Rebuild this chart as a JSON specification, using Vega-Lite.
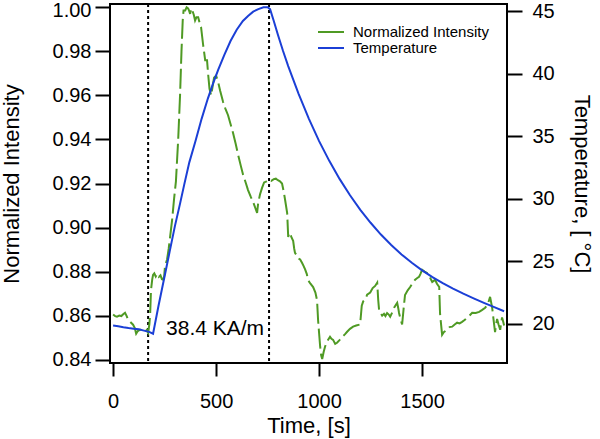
{
  "$schema": "https://vega.github.io/schema/vega-lite/v6.json",
  "width": 397,
  "height": 359,
  "autosize": {"type": "none"},
  "padding": {"left": 110, "top": 4, "right": 93, "bottom": 76},
  "background": "white",
  "config": {
    "font": "Liberation Sans",
    "view": {"stroke": "black", "strokeWidth": 2},
    "axis": {
      "domainColor": "black", "domainWidth": 2,
      "tickColor": "black", "tickWidth": 2,
      "labelColor": "black", "titleColor": "black",
      "labelFont": "Liberation Sans", "titleFont": "Liberation Sans",
      "labelFontSize": 20, "titleFontSize": 22, "titleFontWeight": "normal",
      "grid": false
    },
    "legend": {"labelFont": "Liberation Sans", "labelColor": "black"}
  },
  "datasets": {
    "markers": [{"time": 170}, {"time": 757}],
    "labels": [{"time": 257, "intensity": 0.851, "label": "38.4 KA/m"}],
    "intensity": [
      {"time": 0, "intensity": 0.8605}, {"time": 10, "intensity": 0.8598}, {"time": 19, "intensity": 0.8595},
      {"time": 30, "intensity": 0.86}, {"time": 40, "intensity": 0.8598}, {"time": 49, "intensity": 0.8606},
      {"time": 58, "intensity": 0.8613}, {"time": 66, "intensity": 0.8598}, {"time": 73, "intensity": 0.8581},
      {"time": 85, "intensity": 0.857}, {"time": 97, "intensity": 0.8559}, {"time": 105, "intensity": 0.8545},
      {"time": 112, "intensity": 0.8518}, {"time": 120, "intensity": 0.853}, {"time": 131, "intensity": 0.8536},
      {"time": 143, "intensity": 0.8532}, {"time": 155, "intensity": 0.8527}, {"time": 163, "intensity": 0.8535},
      {"time": 170, "intensity": 0.8522}, {"time": 176, "intensity": 0.856}, {"time": 180, "intensity": 0.861},
      {"time": 184, "intensity": 0.8717}, {"time": 190, "intensity": 0.8765}, {"time": 194, "intensity": 0.8785},
      {"time": 200, "intensity": 0.8792}, {"time": 207, "intensity": 0.8778}, {"time": 214, "intensity": 0.879},
      {"time": 222, "intensity": 0.8776}, {"time": 230, "intensity": 0.8783}, {"time": 237, "intensity": 0.8765},
      {"time": 243, "intensity": 0.8763}, {"time": 248, "intensity": 0.878}, {"time": 252, "intensity": 0.8825},
      {"time": 262, "intensity": 0.8855}, {"time": 270, "intensity": 0.8905}, {"time": 277, "intensity": 0.896},
      {"time": 286, "intensity": 0.903}, {"time": 296, "intensity": 0.913}, {"time": 305, "intensity": 0.921},
      {"time": 316, "intensity": 0.94}, {"time": 325, "intensity": 0.96}, {"time": 332, "intensity": 0.98},
      {"time": 338, "intensity": 0.994}, {"time": 342, "intensity": 0.9986}, {"time": 350, "intensity": 0.9986},
      {"time": 357, "intensity": 1.0}, {"time": 364, "intensity": 0.9995}, {"time": 369, "intensity": 0.9985},
      {"time": 374, "intensity": 0.997}, {"time": 379, "intensity": 0.9995}, {"time": 385, "intensity": 0.9985},
      {"time": 392, "intensity": 0.9965}, {"time": 398, "intensity": 0.994}, {"time": 405, "intensity": 0.9955},
      {"time": 413, "intensity": 0.9955}, {"time": 420, "intensity": 0.993}, {"time": 427, "intensity": 0.991},
      {"time": 437, "intensity": 0.983}, {"time": 447, "intensity": 0.976}, {"time": 456, "intensity": 0.976},
      {"time": 461, "intensity": 0.97}, {"time": 468, "intensity": 0.963}, {"time": 476, "intensity": 0.96},
      {"time": 483, "intensity": 0.964}, {"time": 490, "intensity": 0.968}, {"time": 500, "intensity": 0.969},
      {"time": 510, "intensity": 0.966}, {"time": 520, "intensity": 0.962}, {"time": 534, "intensity": 0.957},
      {"time": 545, "intensity": 0.954}, {"time": 558, "intensity": 0.951}, {"time": 570, "intensity": 0.947},
      {"time": 582, "intensity": 0.943}, {"time": 595, "intensity": 0.938}, {"time": 607, "intensity": 0.933},
      {"time": 620, "intensity": 0.928}, {"time": 631, "intensity": 0.924}, {"time": 645, "intensity": 0.92},
      {"time": 655, "intensity": 0.917}, {"time": 668, "intensity": 0.914}, {"time": 680, "intensity": 0.9115},
      {"time": 690, "intensity": 0.909}, {"time": 699, "intensity": 0.9066}, {"time": 704, "intensity": 0.911},
      {"time": 713, "intensity": 0.915}, {"time": 723, "intensity": 0.918}, {"time": 733, "intensity": 0.9205},
      {"time": 745, "intensity": 0.921}, {"time": 757, "intensity": 0.9218}, {"time": 768, "intensity": 0.9212},
      {"time": 780, "intensity": 0.922}, {"time": 790, "intensity": 0.9222}, {"time": 800, "intensity": 0.9215},
      {"time": 810, "intensity": 0.921}, {"time": 820, "intensity": 0.92}, {"time": 828, "intensity": 0.9165},
      {"time": 835, "intensity": 0.9125}, {"time": 845, "intensity": 0.9066}, {"time": 850, "intensity": 0.8957},
      {"time": 855, "intensity": 0.8975}, {"time": 859, "intensity": 0.8976}, {"time": 866, "intensity": 0.8955},
      {"time": 874, "intensity": 0.894}, {"time": 879, "intensity": 0.8905}, {"time": 883, "intensity": 0.8885},
      {"time": 890, "intensity": 0.8875}, {"time": 898, "intensity": 0.886}, {"time": 908, "intensity": 0.8855},
      {"time": 917, "intensity": 0.884}, {"time": 925, "intensity": 0.8825}, {"time": 932, "intensity": 0.881},
      {"time": 940, "intensity": 0.879}, {"time": 947, "intensity": 0.876}, {"time": 958, "intensity": 0.8745},
      {"time": 971, "intensity": 0.873}, {"time": 982, "intensity": 0.8705}, {"time": 990, "intensity": 0.867},
      {"time": 995, "intensity": 0.858}, {"time": 1000, "intensity": 0.852}, {"time": 1005, "intensity": 0.846},
      {"time": 1010, "intensity": 0.842}, {"time": 1015, "intensity": 0.8403}, {"time": 1022, "intensity": 0.8435},
      {"time": 1029, "intensity": 0.846}, {"time": 1040, "intensity": 0.8485}, {"time": 1053, "intensity": 0.8504},
      {"time": 1060, "intensity": 0.8495}, {"time": 1068, "intensity": 0.849}, {"time": 1078, "intensity": 0.8472},
      {"time": 1087, "intensity": 0.8477}, {"time": 1100, "intensity": 0.849}, {"time": 1112, "intensity": 0.8504},
      {"time": 1125, "intensity": 0.8515}, {"time": 1136, "intensity": 0.8527}, {"time": 1150, "intensity": 0.854},
      {"time": 1165, "intensity": 0.855}, {"time": 1180, "intensity": 0.8555}, {"time": 1199, "intensity": 0.856},
      {"time": 1207, "intensity": 0.8645}, {"time": 1214, "intensity": 0.8665}, {"time": 1225, "intensity": 0.8675},
      {"time": 1233, "intensity": 0.8695}, {"time": 1248, "intensity": 0.8705}, {"time": 1260, "intensity": 0.8725},
      {"time": 1272, "intensity": 0.8735}, {"time": 1282, "intensity": 0.875}, {"time": 1287, "intensity": 0.867},
      {"time": 1291, "intensity": 0.8627}, {"time": 1298, "intensity": 0.8612}, {"time": 1306, "intensity": 0.86},
      {"time": 1315, "intensity": 0.8608}, {"time": 1322, "intensity": 0.8598}, {"time": 1330, "intensity": 0.8612},
      {"time": 1338, "intensity": 0.8605}, {"time": 1345, "intensity": 0.8595}, {"time": 1355, "intensity": 0.8615},
      {"time": 1364, "intensity": 0.8636}, {"time": 1372, "intensity": 0.8648}, {"time": 1379, "intensity": 0.8658},
      {"time": 1384, "intensity": 0.8635}, {"time": 1388, "intensity": 0.8612}, {"time": 1395, "intensity": 0.8585},
      {"time": 1403, "intensity": 0.856}, {"time": 1410, "intensity": 0.863}, {"time": 1417, "intensity": 0.8694},
      {"time": 1430, "intensity": 0.8715}, {"time": 1442, "intensity": 0.873}, {"time": 1455, "intensity": 0.875},
      {"time": 1466, "intensity": 0.8763}, {"time": 1475, "intensity": 0.877}, {"time": 1485, "intensity": 0.8776},
      {"time": 1492, "intensity": 0.879}, {"time": 1500, "intensity": 0.8808}, {"time": 1512, "intensity": 0.88},
      {"time": 1524, "intensity": 0.8794}, {"time": 1537, "intensity": 0.8775}, {"time": 1549, "intensity": 0.8753},
      {"time": 1556, "intensity": 0.8758}, {"time": 1563, "intensity": 0.8763}, {"time": 1572, "intensity": 0.8745},
      {"time": 1583, "intensity": 0.873}, {"time": 1587, "intensity": 0.861}, {"time": 1592, "intensity": 0.856},
      {"time": 1597, "intensity": 0.8513}, {"time": 1605, "intensity": 0.8525}, {"time": 1613, "intensity": 0.853},
      {"time": 1621, "intensity": 0.8536}, {"time": 1633, "intensity": 0.8548}, {"time": 1646, "intensity": 0.855},
      {"time": 1658, "intensity": 0.856}, {"time": 1670, "intensity": 0.8568}, {"time": 1682, "intensity": 0.8565},
      {"time": 1694, "intensity": 0.8572}, {"time": 1706, "intensity": 0.858}, {"time": 1718, "intensity": 0.859},
      {"time": 1730, "intensity": 0.86}, {"time": 1743, "intensity": 0.8613}, {"time": 1760, "intensity": 0.8612},
      {"time": 1777, "intensity": 0.8617}, {"time": 1790, "intensity": 0.8625}, {"time": 1806, "intensity": 0.8636},
      {"time": 1818, "intensity": 0.865}, {"time": 1830, "intensity": 0.8685}, {"time": 1835, "intensity": 0.866},
      {"time": 1840, "intensity": 0.8636}, {"time": 1847, "intensity": 0.858}, {"time": 1854, "intensity": 0.8525},
      {"time": 1859, "intensity": 0.856}, {"time": 1864, "intensity": 0.8585}, {"time": 1871, "intensity": 0.856},
      {"time": 1879, "intensity": 0.8536}, {"time": 1884, "intensity": 0.857}, {"time": 1888, "intensity": 0.8592},
      {"time": 1893, "intensity": 0.8575}, {"time": 1898, "intensity": 0.8555}
    ],
    "temperature": [
      {"time": 0, "temperature": 19.85}, {"time": 25, "temperature": 19.8}, {"time": 50, "temperature": 19.72},
      {"time": 75, "temperature": 19.65}, {"time": 100, "temperature": 19.6}, {"time": 125, "temperature": 19.55},
      {"time": 150, "temperature": 19.45}, {"time": 175, "temperature": 19.35}, {"time": 194, "temperature": 19.2},
      {"time": 220, "temperature": 21.4}, {"time": 250, "temperature": 23.8}, {"time": 275, "temperature": 25.8},
      {"time": 300, "temperature": 27.8}, {"time": 325, "temperature": 29.6}, {"time": 345, "temperature": 31.1},
      {"time": 370, "temperature": 32.9}, {"time": 400, "temperature": 34.6}, {"time": 430, "temperature": 36.4},
      {"time": 460, "temperature": 38.0}, {"time": 485, "temperature": 39.2}, {"time": 510, "temperature": 40.3},
      {"time": 540, "temperature": 41.5}, {"time": 570, "temperature": 42.6}, {"time": 600, "temperature": 43.5},
      {"time": 630, "temperature": 44.2}, {"time": 655, "temperature": 44.6}, {"time": 680, "temperature": 44.95},
      {"time": 705, "temperature": 45.15}, {"time": 730, "temperature": 45.3}, {"time": 750, "temperature": 45.3},
      {"time": 762, "temperature": 45.15}, {"time": 780, "temperature": 44.2}, {"time": 800, "temperature": 43.1},
      {"time": 825, "temperature": 41.8}, {"time": 850, "temperature": 40.6}, {"time": 875, "temperature": 39.5},
      {"time": 900, "temperature": 38.4}, {"time": 925, "temperature": 37.4}, {"time": 950, "temperature": 36.4},
      {"time": 975, "temperature": 35.5}, {"time": 1000, "temperature": 34.6}, {"time": 1050, "temperature": 33.0},
      {"time": 1100, "temperature": 31.56}, {"time": 1150, "temperature": 30.27}, {"time": 1200, "temperature": 29.1},
      {"time": 1250, "temperature": 28.07}, {"time": 1300, "temperature": 27.13}, {"time": 1350, "temperature": 26.3},
      {"time": 1400, "temperature": 25.54}, {"time": 1450, "temperature": 24.87}, {"time": 1500, "temperature": 24.27},
      {"time": 1550, "temperature": 23.72}, {"time": 1600, "temperature": 23.24}, {"time": 1650, "temperature": 22.8},
      {"time": 1700, "temperature": 22.4}, {"time": 1750, "temperature": 22.03}, {"time": 1800, "temperature": 21.67},
      {"time": 1850, "temperature": 21.33}, {"time": 1898, "temperature": 21.0}
    ]
  },
  "layer": [
    {
      "layer": [
        {
          "data": {"name": "markers"},
          "mark": {"type": "rule", "color": "black", "strokeWidth": 2, "strokeDash": [3, 3]},
          "encoding": {
            "x": {"field": "time", "type": "quantitative", "scale": {"domain": [-15, 1912], "nice": false, "zero": false}}
          }
        },
        {
          "data": {"name": "intensity"},
          "mark": {"type": "line", "strokeWidth": 2, "strokeDash": [20, 5], "clip": true},
          "encoding": {
            "x": {"field": "time", "type": "quantitative", "scale": {"domain": [-15, 1912], "nice": false, "zero": false},
              "axis": {"title": "Time, [s]", "values": [0, 500, 1000, 1500], "format": "d", "tickSize": 13, "labelPadding": 15, "titlePadding": 4, "domain": false}},
            "y": {"field": "intensity", "type": "quantitative", "scale": {"domain": [0.8385, 1.0015], "nice": false, "zero": false},
              "axis": {"title": "Normalized Intensity", "values": [0.84, 0.86, 0.88, 0.9, 0.92, 0.94, 0.96, 0.98, 1.0], "format": ".2f", "tickSize": 15, "labelPadding": 4, "titlePadding": 29, "domain": false,
                "labelOffset": {"condition": {"test": "datum.value > 0.999", "value": 3}, "value": 0}}},
            "color": {"datum": "Normalized Intensity", "type": "nominal",
              "scale": {"domain": ["Normalized Intensity", "Temperature"], "range": ["#4f9a24", "#1b3fd6"]},
              "legend": {"title": null, "orient": "none", "legendX": 207, "legendY": 20, "symbolType": "stroke", "symbolSize": 676, "symbolStrokeWidth": 2, "symbolDash": [], "labelFontSize": 15, "labelOffset": 8, "clipHeight": 16, "rowPadding": 0}}
          }
        },
        {
          "data": {"name": "labels"},
          "mark": {"type": "text", "align": "left", "baseline": "alphabetic", "fontSize": 21, "color": "black", "font": "Liberation Sans"},
          "encoding": {
            "x": {"field": "time", "type": "quantitative"},
            "y": {"field": "intensity", "type": "quantitative"},
            "text": {"field": "label"}
          }
        }
      ]
    },
    {
      "data": {"name": "temperature"},
      "mark": {"type": "line", "strokeWidth": 2, "clip": true},
      "encoding": {
        "x": {"field": "time", "type": "quantitative"},
        "y": {"field": "temperature", "type": "quantitative", "scale": {"domain": [16.86, 45.56], "nice": false, "zero": false},
          "axis": {"orient": "right", "title": "Temperature, [ °C]", "values": [20, 25, 30, 35, 40, 45], "tickSize": 15, "labelPadding": 10, "titlePadding": 15, "domain": false}},
        "color": {"datum": "Temperature", "type": "nominal"}
      }
    }
  ],
  "resolve": {"scale": {"y": "independent"}}
}
